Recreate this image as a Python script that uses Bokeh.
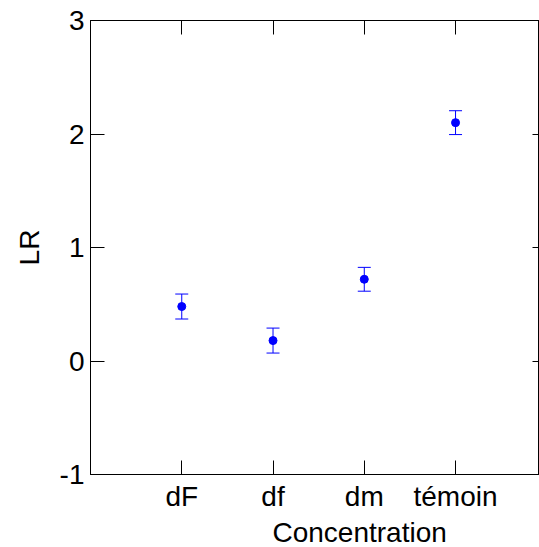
from bokeh.plotting import figure
from bokeh.models import Range1d, FixedTicker, LinearAxis, Whisker, ColumnDataSource, TeeHead, Title
from bokeh.embed import file_html
from bokeh.resources import INLINE

categories = ["dF", "df", "dm", "témoin"]
positions = [1, 2, 3, 4]
lr_values = [0.48, 0.18, 0.72, 2.10]
lr_errors = [0.11, 0.11, 0.105, 0.105]
y_ticks = [-1, 0, 1, 2, 3]
y_tick_labels = ["-1", "0", "1", "2", "3"]

FONT = "Liberation Sans"
FS = "28px"

source = ColumnDataSource(dict(
    x=positions,
    y=lr_values,
    upper=[v + e for v, e in zip(lr_values, lr_errors)],
    lower=[v - e for v, e in zip(lr_values, lr_errors)],
))

p = figure(width=539, height=547, output_backend="svg", toolbar_location=None,
           x_range=Range1d(0, 4.92), y_range=Range1d(-1, 3),
           min_border_left=90, min_border_top=20, min_border_right=0, min_border_bottom=71)
p.xgrid.visible = False
p.ygrid.visible = False
p.outline_line_color = "black"
p.background_fill_color = "white"
p.border_fill_color = "white"

p.xaxis.ticker = FixedTicker(ticks=positions)
p.xaxis.major_label_overrides = {pos: lab for pos, lab in zip(positions, categories)}
p.yaxis.ticker = FixedTicker(ticks=y_ticks)
p.yaxis.major_label_overrides = {t: lab for t, lab in zip(y_ticks, y_tick_labels)}
p.yaxis.axis_label = "LR"

for ax in (p.xaxis[0], p.yaxis[0]):
    ax.major_tick_in = 14
    ax.major_tick_out = 0
    ax.minor_tick_in = 0
    ax.minor_tick_out = 0
    ax.axis_line_color = "black"
    ax.major_tick_line_color = "black"
    ax.major_label_text_font = FONT
    ax.major_label_text_font_size = FS
    ax.major_label_text_color = "black"
    ax.axis_label_text_font = FONT
    ax.axis_label_text_font_size = FS
    ax.axis_label_text_font_style = "normal"
    ax.axis_label_text_color = "black"

p.xaxis.major_label_standoff = 6
p.yaxis.major_label_standoff = 6
p.yaxis.axis_label_standoff = 12

top_axis = LinearAxis(ticker=FixedTicker(ticks=positions),
                      major_label_overrides={t: "" for t in positions},
                      major_label_text_font_size="1px",
                      major_label_standoff=0, major_tick_in=14, major_tick_out=0,
                      minor_tick_in=0, minor_tick_out=0, axis_line_color="black",
                      major_tick_line_color="black")
p.add_layout(top_axis, "above")
right_axis = LinearAxis(ticker=FixedTicker(ticks=y_ticks),
                        major_label_overrides={t: "" for t in y_ticks},
                        major_label_text_font_size="1px",
                        major_label_standoff=0, major_tick_in=7, major_tick_out=0,
                        minor_tick_in=0, minor_tick_out=0, axis_line_color="black",
                        major_tick_line_color="black")
p.add_layout(right_axis, "right")

x_title = Title(text="Concentration", align="left", offset=182, standoff=0,
                text_font=FONT, text_font_size=FS, text_font_style="normal",
                text_color="black")
p.add_layout(x_title, "below")

whisker = Whisker(source=source, base="x", upper="upper", lower="lower",
                  line_color="blue", line_width=1,
                  upper_head=TeeHead(size=13, line_color="blue", line_width=1),
                  lower_head=TeeHead(size=13, line_color="blue", line_width=1))
p.add_layout(whisker)
p.scatter("x", "y", source=source, size=8, color="blue")

open("out.html", "w").write(file_html(p, INLINE))
